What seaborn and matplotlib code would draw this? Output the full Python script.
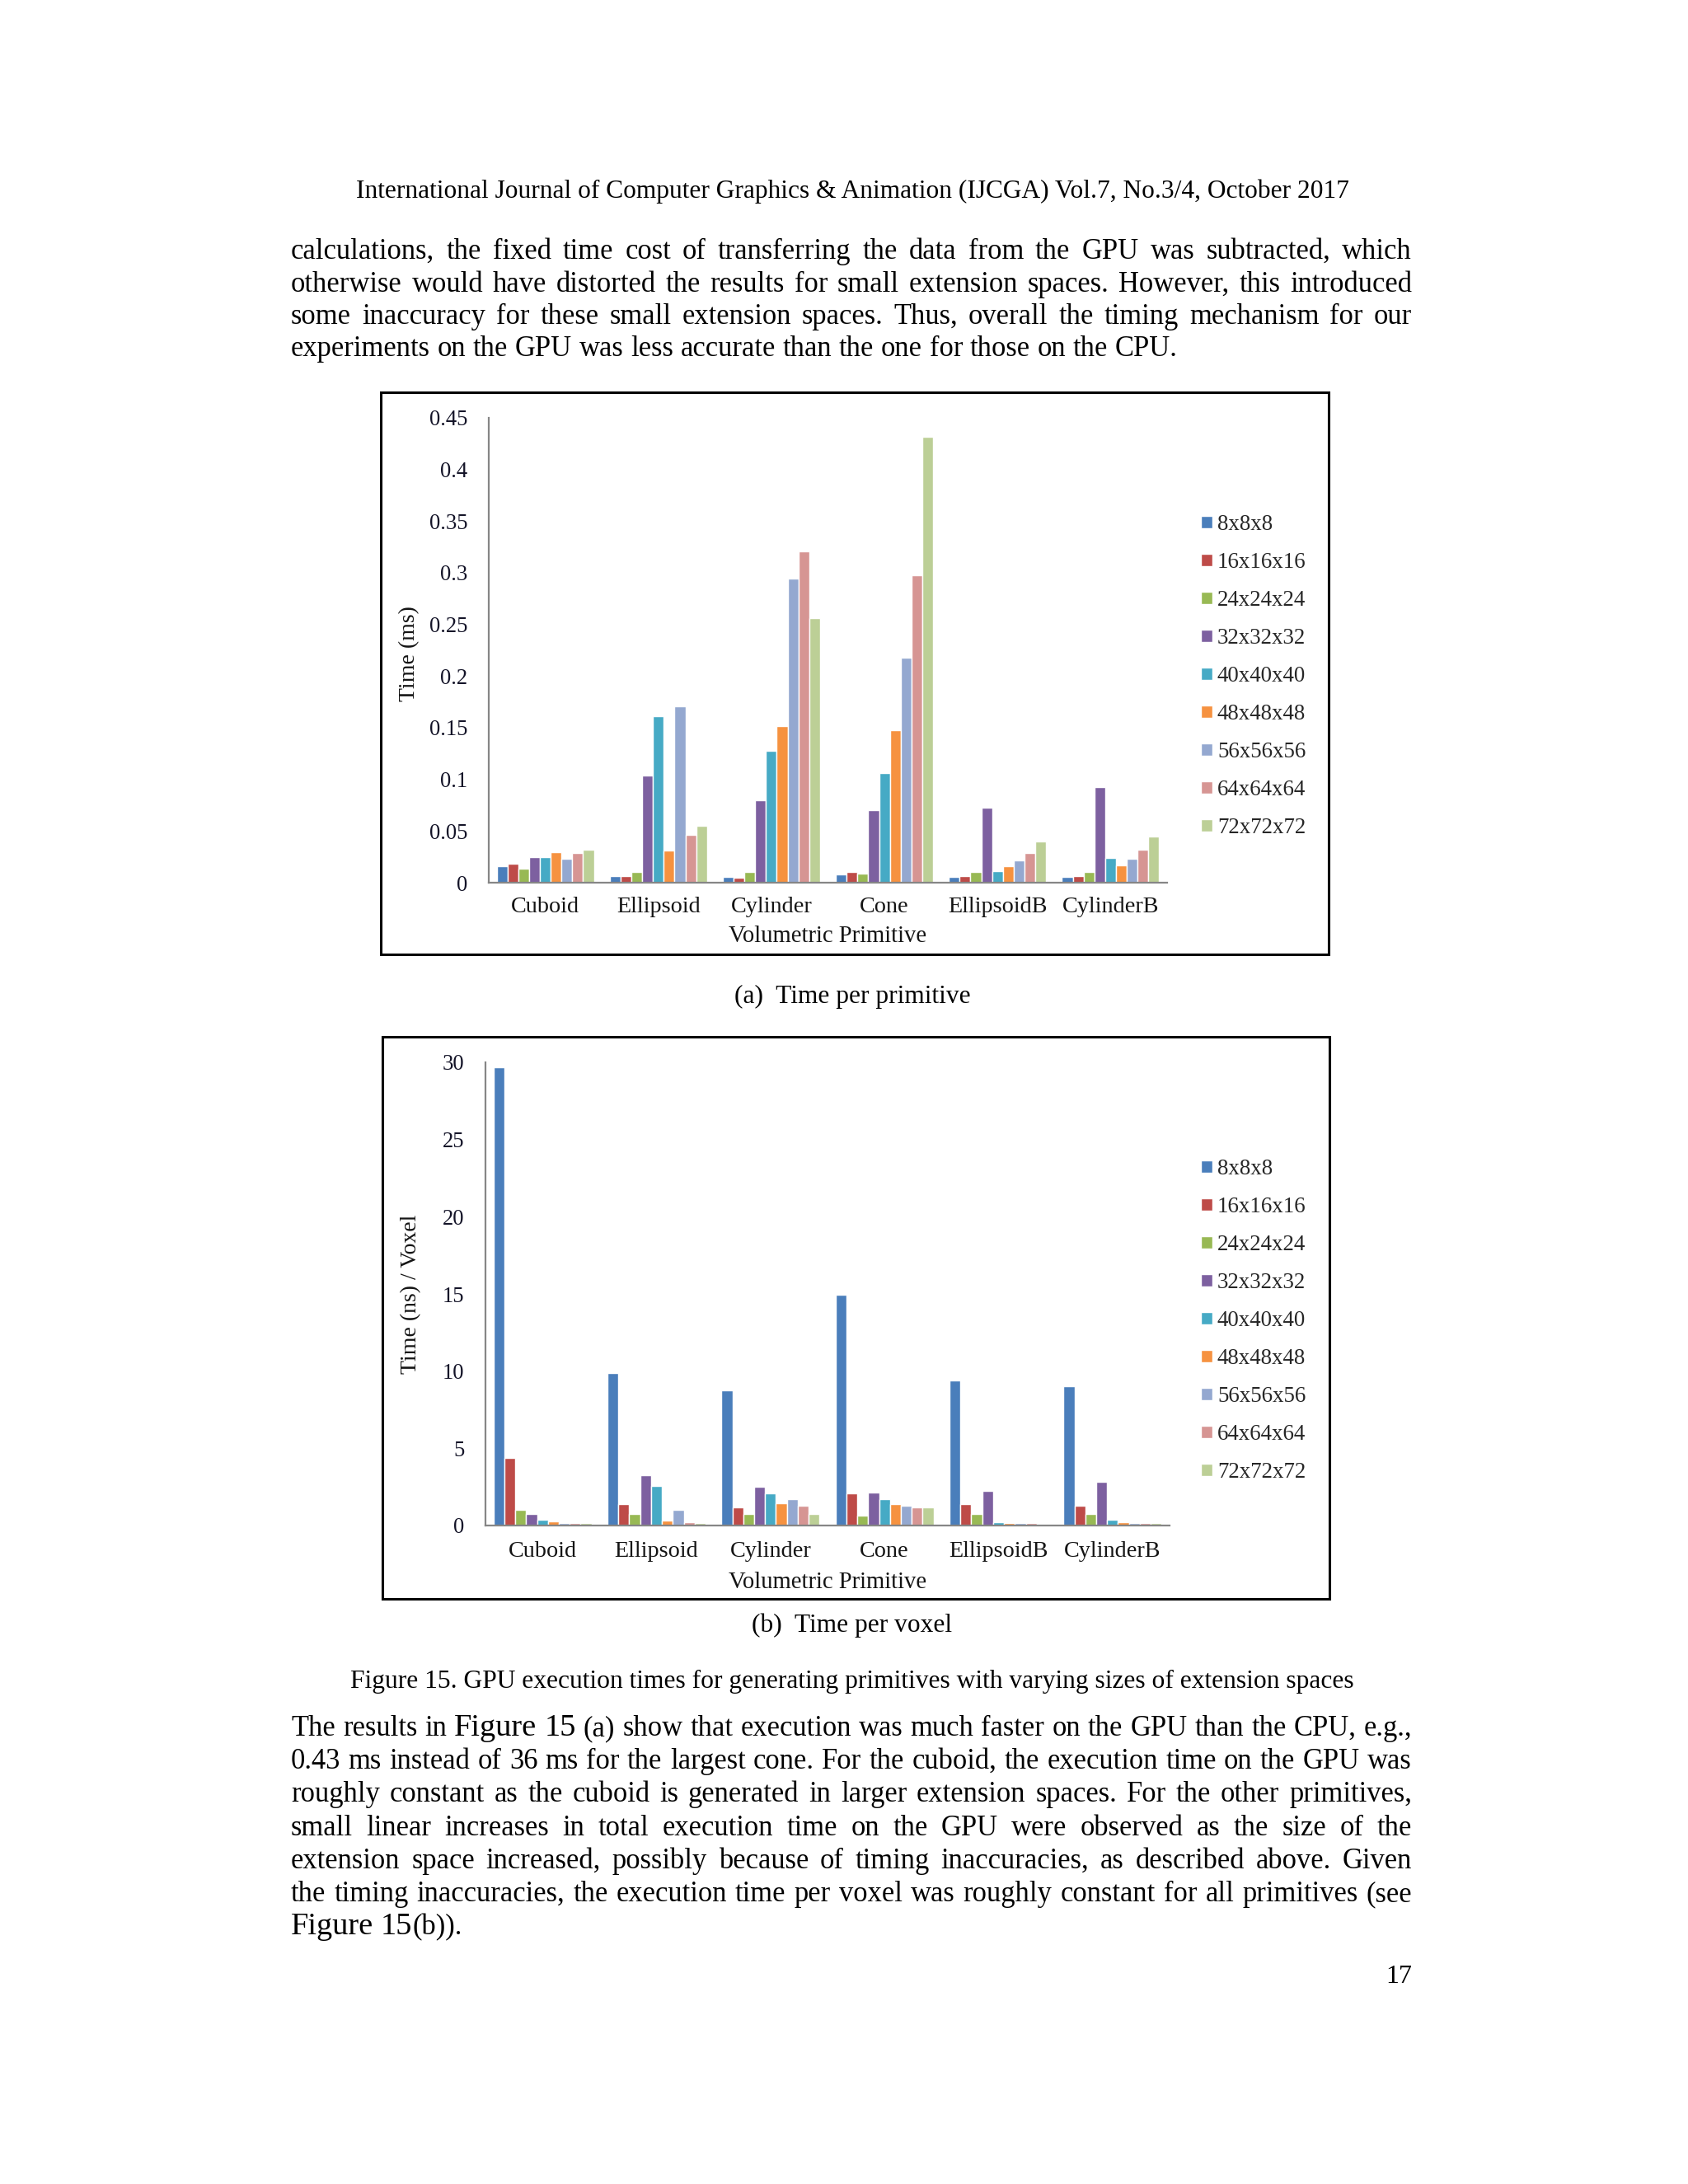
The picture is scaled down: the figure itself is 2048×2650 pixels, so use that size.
import numpy as np
import pandas as pd
import matplotlib
matplotlib.use('Agg')
import matplotlib.pyplot as plt
import seaborn as sns
from matplotlib.patches import Rectangle
from matplotlib.ticker import FuncFormatter

# page size in pixels
W, H, DPI = 2048, 2650, 200

# ------------------ DATA ------------------
primitives = ['Cuboid', 'Ellipsoid', 'Cylinder', 'Cone', 'EllipsoidB', 'CylinderB']
sizes = ['8x8x8', '16x16x16', '24x24x24', '32x32x32', '40x40x40',
         '48x48x48', '56x56x56', '64x64x64', '72x72x72']
colors = ['#4A7EBB', '#BE4B48', '#98B954', '#7D60A0', '#46AAC5',
          '#F69240', '#94A8D0', '#D69593', '#BCCF96']

# (a) time per primitive, ms (one list per primitive, in order of sizes)
ms_cuboid = [0.0157, 0.0180, 0.0136, 0.0250, 0.0250, 0.0298, 0.0228, 0.0288, 0.0316]
ms_ellipsoid = [0.0060, 0.0060, 0.0107, 0.1038, 0.1615, 0.0310, 0.1710, 0.0460, 0.0547]
ms_cylinder = [0.0055, 0.0050, 0.0100, 0.0800, 0.1280, 0.1515, 0.2944, 0.3207, 0.2563]
ms_cone = [0.0083, 0.0100, 0.0086, 0.0706, 0.1058, 0.1474, 0.2176, 0.2978, 0.4317]
ms_ellipsoidb = [0.0055, 0.0060, 0.0104, 0.0723, 0.0114, 0.0159, 0.0218, 0.0287, 0.0398]
ms_cylinderb = [0.0055, 0.0060, 0.0104, 0.0927, 0.0239, 0.0170, 0.0235, 0.0318, 0.0446]

# (b) time per voxel, ns
ns_cuboid = [29.7, 4.36, 1.00, 0.77, 0.40, 0.28, 0.16, 0.16, 0.14]
ns_ellipsoid = [9.86, 1.38, 0.77, 3.23, 2.55, 0.30, 1.00, 0.23, 0.14]
ns_cylinder = [8.74, 1.19, 0.73, 2.50, 2.06, 1.43, 1.69, 1.29, 0.75]
ns_cone = [14.96, 2.10, 0.63, 2.15, 1.69, 1.38, 1.29, 1.17, 1.17]
ns_ellipsoidb = [9.41, 1.38, 0.73, 2.22, 0.23, 0.16, 0.14, 0.14, 0.12]
ns_cylinderb = [9.02, 1.29, 0.75, 2.81, 0.40, 0.19, 0.14, 0.14, 0.14]

# '|' glues two pieces of one word together (the first piece may be set larger)
para1 = ["calculations, the fixed time cost of transferring the data from the GPU was subtracted, which",
         "otherwise would have distorted the results for small extension spaces. However, this introduced",
         "some inaccuracy for these small extension spaces. Thus, overall the timing mechanism for our",
         "experiments on the GPU was less accurate than the one for those on the CPU."]
para2 = ["The results in Figure 15 (a) show that execution was much faster on the GPU than the CPU, e.g.,",
         "0.43 ms instead of 36 ms for the largest cone. For the cuboid, the execution time on the GPU was",
         "roughly constant as the cuboid is generated in larger extension spaces. For the other primitives,",
         "small linear increases in total execution time on the GPU were observed as the size of the",
         "extension space increased, possibly because of timing inaccuracies, as described above.  Given",
         "the timing inaccuracies, the execution time per voxel was roughly constant for all primitives (see",
         "Figure 15|(b))."]

df_a = pd.DataFrame({'primitive': np.repeat(primitives, len(sizes)),
                     'size': sizes * len(primitives),
                     'time': ms_cuboid + ms_ellipsoid + ms_cylinder + ms_cone + ms_ellipsoidb + ms_cylinderb})
df_b = pd.DataFrame({'primitive': np.repeat(primitives, len(sizes)),
                     'size': sizes * len(primitives),
                     'time': ns_cuboid + ns_ellipsoid + ns_cylinder + ns_cone + ns_ellipsoidb + ns_cylinderb})

# ------------------ STYLE ------------------
sns.set_style('white')
plt.rcParams['font.family'] = ['Liberation Serif', 'DejaVu Serif']

fig = plt.figure(figsize=(W / DPI, H / DPI), dpi=DPI)
renderer = fig.canvas.get_renderer()

X0, X1 = 353, 1713  # text column, px
BODY = 12.45
BIG = 13.8


def put(x, y, s, size, color='black', **kw):
    # x, y in page pixels from top-left
    return fig.text(x / W, 1 - y / H, s, fontsize=size, color=color, **kw)


def paragraph(lines, y0, dy, big=(), last_full=False):
    for i, line in enumerate(lines):
        y = y0 + i * dy
        words = line.split()
        groups = []
        for w in words:
            parts = w.split('|')
            objs = [put(0, y, p, BIG if p in big else BODY, va='baseline') for p in parts]
            ws = [t.get_window_extent(renderer).width for t in objs]
            groups.append((objs, ws))
        total = sum(sum(ws) for _, ws in groups)
        if i < len(lines) - 1 or last_full:
            gap = (X1 - X0 - total) / (len(groups) - 1)
        else:
            gap = BODY * DPI / 72 * 0.25
        x = X0
        for objs, ws in groups:
            for t, w in zip(objs, ws):
                t.set_x(x / W)
                x += w
            x += gap


def panel(df, box, axpx, ymax, step, ylabel, ylab_xy, xl_off, tick_pad, leg_top):
    bx0, by0, bx1, by1 = box
    fig.add_artist(Rectangle((bx0 / W, 1 - by1 / H), (bx1 - bx0) / W, (by1 - by0) / H,
                             transform=fig.transFigure, fill=False, ec='black', lw=1.1))
    l, t, r, b = axpx
    ax = fig.add_axes([l / W, 1 - b / H, (r - l) / W, (b - t) / H])
    sns.barplot(data=df, x='primitive', y='time', hue='size', order=primitives,
                hue_order=sizes, palette=colors, width=0.86, saturation=1,
                errorbar=None, edgecolor='white', linewidth=0.5, ax=ax)
    ax.set_xlim(-0.5, 5.5)
    ax.set_ylim(0, ymax)
    ax.set_yticks(np.arange(0, ymax + step / 2, step))
    ax.yaxis.set_major_formatter(FuncFormatter(lambda v, _: f'{v:g}'))
    for s in ['top', 'right']:
        ax.spines[s].set_visible(False)
    for s in ['left', 'bottom']:
        ax.spines[s].set_color('#868686')
        ax.spines[s].set_linewidth(0.8)
    ax.tick_params(axis='y', direction='out', length=3.2, width=0.8, color='#868686',
                   pad=6, labelsize=9.6, labelcolor='#141428')
    ax.tick_params(axis='x', length=0, pad=tick_pad, labelsize=10.2, labelcolor='#141414')
    ax.set_ylabel('')
    ax.set_xlabel('Volumetric Primitive', fontsize=10.3, color='#141414')
    ax.xaxis.set_label_coords(0.5, xl_off)
    put(ylab_xy[0], ylab_xy[1], ylabel, 10, color='#141414', rotation=90, ha='center', va='center')
    handles, labels = ax.get_legend_handles_labels()
    ax.legend(handles, labels, loc='upper left', frameon=False, fontsize=9.7,
              bbox_to_anchor=(1457 / W, 1 - leg_top / H), bbox_transform=fig.transFigure,
              handlelength=0.52, handleheight=0.52, handletextpad=0.22, labelspacing=0.78,
              borderpad=0, borderaxespad=0)
    return ax


# ------------------ PAGE ------------------
put(1034, 240, 'International Journal of Computer Graphics & Animation (IJCGA) Vol.7, No.3/4, October 2017',
    11.3, ha='center', va='baseline')
paragraph(para1, 314, 39.5)

panel(df_a, (462, 476, 1612, 1158), (593, 507, 1416, 1071), 0.45, 0.05,
      'Time (ms)', (497, 793), -0.092, 6, 624)
put(1034, 1217, '(a)  Time per primitive', 11.3, ha='center', va='baseline')

panel(df_b, (464, 1258, 1613, 1940), (589, 1289, 1419, 1851), 30, 5,
      'Time (ns) / Voxel', (499, 1570), -0.1, 7, 1406)
put(1034, 1980, '(b)  Time per voxel', 11.3, ha='center', va='baseline')

put(1034, 2048, 'Figure 15. GPU execution times for generating primitives with varying sizes of extension spaces',
    11.36, ha='center', va='baseline')
paragraph(para2, 2106, 40.2, big=('Figure', '15'))
put(1713, 2406, '17', 11.5, ha='right', va='baseline')

fig.savefig('out.png', dpi=DPI, facecolor='white')
